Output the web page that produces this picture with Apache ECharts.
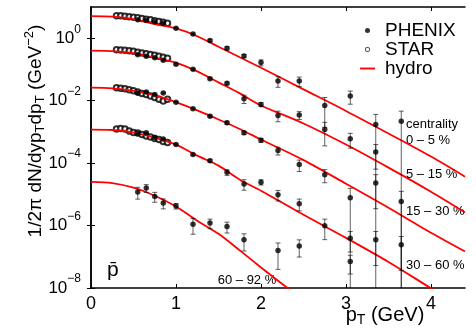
<!DOCTYPE html>
<html><head><meta charset="utf-8">
<script src="https://cdn.jsdelivr.net/npm/echarts@6/dist/echarts.min.js"></script>
<style>html,body{margin:0;padding:0;background:#fff}#c{width:476px;height:335px}</style>
</head><body><div id="c"></div>
<script>
// ---------- data ----------
const centralityLabels = ['0 – 5 %', '5 – 15 %', '15 – 30 %', '30 – 60 %', '60 – 92 %'];
const xTickLabels = ['0', '1', '2', '3', '4'];
const yTickExps = [-8, -6, -4, -2, 0];

const phenixPt = [0.55,0.65,0.75,0.85,1.0,1.2,1.4,1.6,1.8,2.0,2.2,2.45,2.75,3.05,3.35,3.65];
const phenix_0_5   = [3.93,3.79,3.39,3.03,2.10,1.37,0.844,0.477,0.270,0.166,0.0425,0.0425,7.03e-3,1.40e-2,1.73e-3,2.20e-3];
const phenixErr_0_5   = [0.05,0.05,0.05,0.05,0.05,0.06,0.08,0.12,0.12,0.22,0.37,0.34,0.8,0.45,1.1,1.1];
const phenix_5_15  = [0.295,0.264,0.236,0.196,0.146,0.101,0.0507,0.0358,0.01156,7.58e-3,3.36e-3,3.48e-3,1.19e-3,6.00e-4,2.29e-4,null];
const phenixErr_5_15  = [0.05,0.05,0.05,0.05,0.05,0.06,0.08,0.1,0.3,0.15,0.37,0.28,0.7,0.5,0.72,null];
const phenix_15_30 = [0.01774,0.0191,0.0159,0.01774,8.97e-3,5.51e-3,3.19e-3,1.96e-3,9.33e-4,5.40e-4,2.52e-4,8.95e-5,4.27e-5,7.79e-6,2.31e-5,5.93e-6];
const phenixErr_15_30 = [0.05,0.05,0.05,0.05,0.05,0.06,0.08,0.12,0.12,0.15,0.28,0.4,0.45,1.0,0.85,1.1];
const phenix_30_60 = [8.87e-4,9.3e-4,6.59e-4,5.90e-4,3.93e-4,1.88e-4,1.20e-4,5.06e-5,2.15e-5,2.45e-5,9.73e-6,5.00e-6,9.82e-7,3.95e-7,3.48e-7,2.41e-7];
const phenixErr_30_60 = [0.05,0.05,0.05,0.05,0.05,0.06,0.1,0.2,0.37,0.19,0.37,0.41,0.64,0.64,0.85,0.85];
const phenix_60_92 = [1.19e-5,1.60e-5,8.57e-6,5.26e-6,4.22e-6,1.10e-6,1.20e-6,9.31e-7,3.48e-7,null,1.58e-7,2.23e-7,null,7.00e-8,null,null];
const phenixErr_60_92 = [0.41,0.28,0.35,0.35,0.2,0.52,0.34,0.38,0.56,null,0.75,0.56,null,0.6,null,null];

const starPt = [0.30,0.35,0.40,0.45,0.50,0.55,0.60,0.65,0.70,0.75,0.80,0.85,0.90];
const star_0_5   = [5.28,5.20,5.09,4.91,4.73,4.49,4.30,4.07,3.87,3.65,3.44,3.27,3.03];
const star_5_15  = [0.427,0.421,0.412,0.397,0.382,0.355,0.337,0.318,0.300,0.284,0.264,0.245,0.228];
const star_15_30 = [0.0257,0.0248,0.0239,0.0222,0.0206,0.0191,0.0171,0.0159,0.0142,0.0127,0.0110,9.82e-3,0.0110];
const star_30_60 = [1.24e-3,1.28e-3,1.24e-3,1.07e-3,9.55e-4,9.20e-4,8.24e-4,7.37e-4,6.84e-4,6.12e-4,5.69e-4,4.91e-4,4.56e-4];

const hydroPt = [0,0.25,0.5,0.75,1,1.25,1.5,1.75,2,2.5,3,3.5,4,4.4];
const hydro_0_5   = [5.09,4.91,4.07,2.82,2.05,1.16,0.533,0.245,0.113,0.0230,4.69e-3,8.87e-4,1.62e-4,3.68e-5];
const hydro_5_15  = [0.403,0.388,0.330,0.236,0.163,0.0871,0.0385,0.0171,7.03e-3,1.86e-3,3.93e-4,7.16e-5,1.21e-5,2.62e-6];
const hydro_15_30 = [0.0261,0.0248,0.0206,0.01476,8.97e-3,4.86e-3,2.50e-3,1.24e-3,5.69e-4,1.25e-4,2.19e-5,3.72e-6,5.85e-7,1.47e-7];
const hydro_30_60 = [1.19e-3,1.15e-3,9.55e-4,6.59e-4,3.93e-4,1.74e-4,8.32e-5,2.95e-5,1.31e-5,2.21e-6,4.04e-7,6.84e-8,9.77e-9,2.11e-9];
const hydroPt_60_92 = [0,0.25,0.5,0.75,1,1.25,1.5,1.75,2,2.25,2.5];
const hydro_60_92 = [2.49e-5,2.28e-5,1.63e-5,9.03e-6,4.09e-6,1.42e-6,5.43e-7,1.60e-7,4.56e-8,1.35e-8,4.11e-9];

// ---------- chart ----------
const FONT = '"Liberation Sans", Arial, Helvetica, sans-serif';
const sets = [
  {ph: phenix_0_5, pe: phenixErr_0_5, st: star_0_5, hx: hydroPt, hy: hydro_0_5},
  {ph: phenix_5_15, pe: phenixErr_5_15, st: star_5_15, hx: hydroPt, hy: hydro_5_15},
  {ph: phenix_15_30, pe: phenixErr_15_30, st: star_15_30, hx: hydroPt, hy: hydro_15_30},
  {ph: phenix_30_60, pe: phenixErr_30_60, st: star_30_60, hx: hydroPt, hy: hydro_30_60},
  {ph: phenix_60_92, pe: phenixErr_60_92, st: null, hx: hydroPt_60_92, hy: hydro_60_92}
];
const zip = (xs, ys) => xs.map((x, i) => [x, ys[i]]).filter(d => d[1] != null);
const series = [];
sets.forEach(s => {
  series.push({name: 'hydro', type: 'line', data: zip(s.hx, s.hy), smooth: 0.3, symbol: 'none', showSymbol: false,
    lineStyle: {color: '#ff0000', width: 1.8}, itemStyle: {color: '#ff0000'}, z: 4, silent: true});
  if (s.st) series.push({name: 'STAR', type: 'scatter', data: zip(starPt, s.st), symbol: 'emptyCircle', symbolSize: 5.5,
    itemStyle: {color: '#000', borderColor: '#000', borderWidth: 0.9}, z: 3, silent: true});
  const eb = [];
  phenixPt.forEach((p, i) => {
    if (s.ph[i] != null && s.pe[i] != null) {
      eb.push([p, s.ph[i], Math.max(s.ph[i] * (1 - s.pe[i]), 1e-14), s.ph[i] * (1 + s.pe[i])]);
    }
  });
  series.push({type: 'custom', data: eb, encode: {x: 0, y: [1, 2, 3]}, clip: true, z: 5, silent: true,
    renderItem: (params, api) => {
      const lo = api.coord([api.value(0), api.value(2)]);
      const hi = api.coord([api.value(0), api.value(3)]);
      const st = {stroke: 'rgba(0,0,0,0.62)', lineWidth: 1};
      return {type: 'group', children: [
        {type: 'line', shape: {x1: lo[0], y1: lo[1], x2: hi[0], y2: hi[1]}, style: st},
        {type: 'line', shape: {x1: lo[0] - 2.5, y1: lo[1], x2: lo[0] + 2.5, y2: lo[1]}, style: st},
        {type: 'line', shape: {x1: hi[0] - 2.5, y1: hi[1], x2: hi[0] + 2.5, y2: hi[1]}, style: st}
      ]};
    }});
  series.push({name: 'PHENIX', type: 'scatter', data: zip(phenixPt, s.ph), symbol: 'circle', symbolSize: 5.5,
    itemStyle: {color: '#000'}, z: 6, silent: true});
});

const supLabel = e => '10{s|' + (e < 0 ? '−' : '') + Math.abs(e) + '}';
const axisCommon = {
  axisLine: {show: true, lineStyle: {color: '#000', width: 1.5}},
  axisTick: {show: true, inside: true, length: 4, lineStyle: {color: '#000', width: 1}},
  splitLine: {show: false}, minorTick: {show: false}
};
const xTicks = xTickLabels.map(Number);
const yTicks = yTickExps.map(e => Math.pow(10, e));

const option = {
  animation: false,
  backgroundColor: '#fff',
  grid: {left: 91, right: 11, top: 7, bottom: 47, containLabel: false},
  legend: {
    orient: 'vertical', left: 355, top: 16, itemWidth: 15, itemHeight: 5, itemGap: 0,
    selectedMode: false,
    textStyle: {fontSize: 19, fontFamily: FONT, color: '#000', padding: [0, 0, 0, 5]},
    data: [
      {name: 'PHENIX', icon: 'circle', itemStyle: {color: '#000'}},
      {name: 'STAR', icon: 'path://M10,0A10,10,0,1,1,9.99,0Z M10,3A7,7,0,1,0,10.01,3Z', itemStyle: {color: '#000', borderWidth: 0}},
      {name: 'hydro', icon: 'path://M0,0h40v5h-40z', itemStyle: {color: '#ff0000', borderWidth: 0}}
    ]
  },
  xAxis: [
    Object.assign({}, axisCommon, {type: 'value', min: 0, max: 4.4, interval: 1, position: 'bottom',
      axisTick: Object.assign({}, axisCommon.axisTick, {customValues: xTicks}),
      axisLabel: {customValues: xTicks, formatter: v => xTickLabels[xTicks.indexOf(v)] || '',
        fontSize: 18, fontFamily: FONT, color: '#000', margin: 7}}),
    Object.assign({}, axisCommon, {type: 'value', min: 0, max: 4.4, interval: 1, position: 'top',
      axisTick: Object.assign({}, axisCommon.axisTick, {customValues: xTicks}),
      axisLabel: {show: false}})
  ],
  yAxis: [
    Object.assign({}, axisCommon, {type: 'log', logBase: 10, min: 1e-8, max: 10, position: 'left',
      axisTick: Object.assign({}, axisCommon.axisTick, {customValues: yTicks}),
      axisLabel: {customValues: yTicks, margin: 10, fontSize: 17, fontFamily: FONT, color: '#000',
        formatter: v => supLabel(Math.round(Math.log10(v))),
        rich: {s: {fontSize: 12, fontFamily: FONT, color: '#000', padding: [0, 0, 18, 0]}}}}),
    Object.assign({}, axisCommon, {type: 'log', logBase: 10, min: 1e-8, max: 10, position: 'right',
      axisTick: Object.assign({}, axisCommon.axisTick, {customValues: yTicks}),
      axisLabel: {show: false}})
  ],
  series: series,
  graphic: [
    {type: 'text', x: 36, y: 131, rotation: Math.PI / 2, silent: true,
      style: {text: '1/2π dN/dyp{b|T}dp{b|T} (GeV{p|−2})', fontSize: 19, fontFamily: FONT, fill: '#000',
        align: 'center', verticalAlign: 'middle',
        rich: {b: {fontSize: 13, fontFamily: FONT, fill: '#000', padding: [9, 0, 0, 0]},
               p: {fontSize: 13, fontFamily: FONT, fill: '#000', padding: [0, 0, 14, 0]}}}},
    {type: 'text', x: 385, y: 315, silent: true,
      style: {text: 'p{b|T} (GeV)', fontSize: 20, fontFamily: FONT, fill: '#000', align: 'center', verticalAlign: 'middle',
        rich: {b: {fontSize: 14, fontFamily: FONT, fill: '#000', padding: [10, 0, 0, 0]}}}},
    {type: 'text', x: 107, y: 270, silent: true,
      style: {text: 'p̄', fontSize: 21, fontFamily: FONT, fill: '#000', align: 'left', verticalAlign: 'middle'}},
    {type: 'text', x: 247, y: 280, silent: true,
      style: {text: centralityLabels[4], fontSize: 13, fontFamily: FONT, fill: '#000', align: 'center', verticalAlign: 'middle'}},
    {type: 'text', x: 406, y: 124, silent: true,
      style: {text: 'centrality', fontSize: 13, fontFamily: FONT, fill: '#000', align: 'left', verticalAlign: 'middle'}},
    {type: 'text', x: 406, y: 140, silent: true,
      style: {text: centralityLabels[0], fontSize: 13, fontFamily: FONT, fill: '#000', align: 'left', verticalAlign: 'middle'}},
    {type: 'text', x: 406, y: 174, silent: true,
      style: {text: centralityLabels[1], fontSize: 13, fontFamily: FONT, fill: '#000', align: 'left', verticalAlign: 'middle'}},
    {type: 'text', x: 406, y: 211, silent: true,
      style: {text: centralityLabels[2], fontSize: 13, fontFamily: FONT, fill: '#000', align: 'left', verticalAlign: 'middle'}},
    {type: 'text', x: 406, y: 265.5, silent: true,
      style: {text: centralityLabels[3], fontSize: 13, fontFamily: FONT, fill: '#000', align: 'left', verticalAlign: 'middle'}}
  ]
};
const chart = echarts.init(document.getElementById('c'), null, {renderer: 'canvas', width: 476, height: 335});
chart.setOption(option);
</script>
</body></html>
